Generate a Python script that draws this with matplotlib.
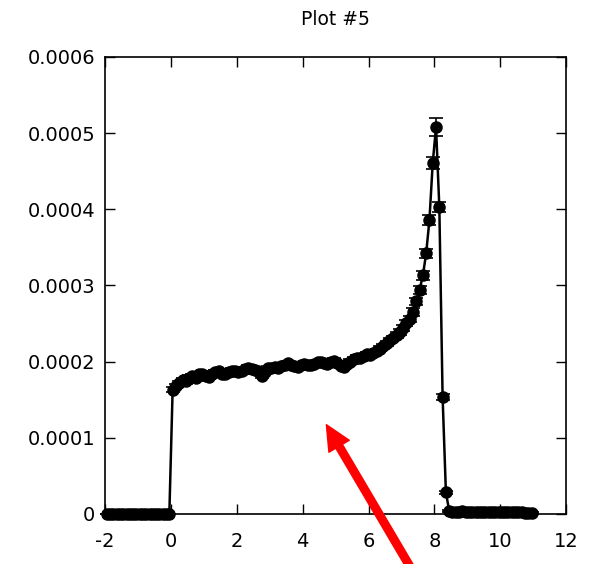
import numpy as np
import matplotlib
matplotlib.use("Agg")
import matplotlib.pyplot as plt

plt.rcParams["axes.unicode_minus"] = False

# bin centres, 0.1 wide, from -2 to 11
x = np.round(np.arange(-1.95, 11.0, 0.1), 2)

y_left = [0.0] * 20  # x < 0
y_plateau = [
    0.000163, 0.000168, 0.000172, 0.000176, 0.000174, 0.000179, 0.000181, 0.000178,
    0.000183, 0.000184, 0.000181, 0.000180, 0.000183, 0.000186, 0.000187, 0.000184,
    0.000183, 0.000186, 0.000188, 0.000187, 0.000186, 0.000188, 0.000190, 0.000192,
    0.000190, 0.000189, 0.000187, 0.000181, 0.000186, 0.000191, 0.000192, 0.000193,
    0.000191, 0.000194, 0.000196, 0.000198, 0.000196, 0.000194, 0.000193, 0.000195,
    0.000197, 0.000196, 0.000195, 0.000197, 0.000199, 0.000200, 0.000198, 0.000197,
    0.000199, 0.000201, 0.000198, 0.000194, 0.000193, 0.000197, 0.000200, 0.000203,
    0.000205, 0.000204, 0.000207, 0.000210,
]
y_rise = [
    0.000209, 0.000211, 0.000214, 0.000217, 0.000220, 0.000224, 0.000228, 0.000231,
    0.000235, 0.000239, 0.000244, 0.000250, 0.000256, 0.000265, 0.000279, 0.000294,
    0.000313, 0.000342, 0.000386, 0.000461, 0.000508, 0.000403, 0.000153, 0.000028,
]
y_tail = [
    0.000004, 0.000003, 0.000002, 0.000003, 0.000004, 0.000003, 0.000002, 0.000002,
    0.000003, 0.000002, 0.000003, 0.000002, 0.000002, 0.000003, 0.000002, 0.000002,
    0.000002, 0.000002, 0.000002, 0.000002, 0.000002, 0.000002, 0.000002, 0.000001,
    0.000001, 0.000001,
]
y = np.array(y_left + y_plateau + y_rise + y_tail)

err_rise = [
    0.000003, 0.000003, 0.000003, 0.000003, 0.000003, 0.000003, 0.000003, 0.000003,
    0.000004, 0.000004, 0.000004, 0.000004, 0.000004, 0.000005, 0.000005, 0.000005,
    0.000006, 0.000006, 0.000007, 0.000008, 0.000012, 0.000007, 0.000004, 0.000002,
]
err = np.array([0.0] * 20 + [0.000003] * len(y_plateau) + err_rise + [0.000001] * len(y_tail))

xticks = [-2, 0, 2, 4, 6, 8, 10, 12]
yticks = [0, 0.0001, 0.0002, 0.0003, 0.0004, 0.0005, 0.0006]
ytick_labels = ["0", "0.0001", "0.0002", "0.0003", "0.0004", "0.0005", "0.0006"]

fig = plt.figure(figsize=(5.94, 5.64), dpi=100)
ax = fig.add_axes([0.177, 0.089, 0.776, 0.81])

eb = ax.errorbar(x, y, yerr=err, color="black", lw=1.8, marker="o", ms=8,
                 capsize=5, elinewidth=1.2, capthick=1.2)
for artist in eb.lines[0:1] + tuple(eb.lines[1]) + tuple(eb.lines[2]):
    artist.set_clip_on(False)

ax.set_xlim(-2, 12)
ax.set_ylim(0, 0.0006)
ax.set_xticks(xticks)
ax.set_yticks(yticks)
ax.set_yticklabels(ytick_labels)
ax.tick_params(direction="in", length=7, width=1, top=True, right=True,
               labelsize=14)
ax.tick_params(axis="x", pad=13)
ax.tick_params(axis="y", pad=7)
for s in ax.spines.values():
    s.set_linewidth(1.2)
ax.set_title("Plot #5", fontsize=13.5, pad=23)

ax.annotate("", xy=(4.72, 0.000117), xycoords="data",
            xytext=(412, -6), textcoords="figure pixels",
            arrowprops=dict(facecolor="red", edgecolor="red", width=5.5,
                            headwidth=17, headlength=18, shrink=0),
            annotation_clip=False)

fig.savefig("out.png", dpi=100)
